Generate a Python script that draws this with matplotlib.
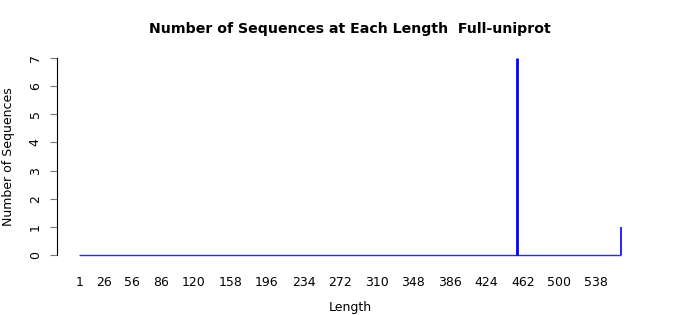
import numpy as np
import matplotlib
matplotlib.use("Agg")
import matplotlib.pyplot as plt

# lengths that have sequences, and their counts
seq_lengths = [456, 564]
seq_counts = [7, 1]
min_length = 1
max_length = 564

x_labels = [1, 26, 56, 86, 120, 158, 196, 234, 272, 310, 348, 386, 424, 462, 500, 538]
y_ticks = [0, 1, 2, 3, 4, 5, 6, 7]

lengths = np.arange(min_length, max_length + 1)
counts = np.zeros(len(lengths))
for L, c in zip(seq_lengths, seq_counts):
    counts[L - min_length] = c

fig = plt.figure(figsize=(7, 3.15), dpi=100)
ax = fig.add_axes([57 / 700, 52 / 315, 583 / 700, 213 / 315])

blue = "#0000ff"
ax.hlines(0, lengths.min(), lengths.max(), color=blue, lw=1.0, alpha=0.85)
nz = counts > 0
ax.vlines(lengths[nz], 0, counts[nz], color=blue, lw=[2.0, 1.2])

ax.set_xlim(-22.4, 584)
ax.set_ylim(-0.284, 7.284)

for s in ["top", "right", "bottom"]:
    ax.spines[s].set_visible(False)
ax.spines["left"].set_bounds(0, 7)
ax.spines["left"].set_linewidth(0.8)

ax.set_xticks(x_labels)
ax.set_xticklabels([str(v) for v in x_labels], fontsize=9)
ax.tick_params(axis="x", length=0, pad=9)

ax.set_yticks(y_ticks)
ax.set_yticklabels([str(v) for v in y_ticks], fontsize=9, rotation=90, va="center")
ax.tick_params(axis="y", length=5, width=0.8, pad=6, color="#777777")

fig.text(9 / 700, 1 - 157 / 315, "Number of Sequences", rotation=90,
         ha="center", va="center", fontsize=9)
fig.text(350 / 700, 1 - 307 / 315, "Length", ha="center", va="center", fontsize=9)
fig.text(350 / 700, 1 - 29 / 315, "Number of Sequences at Each Length  Full-uniprot",
         ha="center", va="center", fontsize=10.2, fontweight="bold")

fig.savefig("out.png", dpi=100)
